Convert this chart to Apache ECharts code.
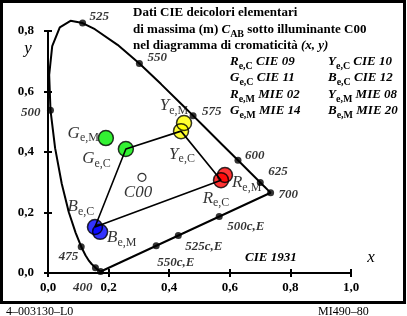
<!DOCTYPE html>
<html>
<head>
<meta charset="utf-8">
<script src="https://cdn.jsdelivr.net/npm/echarts@6/dist/echarts.min.js"></script>
<style>
html, body { margin: 0; padding: 0; background: #fff; }
#chart { width: 407px; height: 316px; }
</style>
</head>
<body>
<div id="chart"></div>
<script>
// CIE 1931 spectral locus (x, y), wavelengths in nm
const locusNm = [380, 400, 420, 430, 440, 450, 460, 465, 470, 475, 480, 485, 490, 495, 500, 505, 510, 515, 520, 525, 530, 540, 550, 560, 570, 575, 580, 590, 600, 610, 620, 625, 630, 640, 650, 700];
const locusX = [0.1741, 0.1733, 0.1714, 0.1689, 0.1644, 0.1566, 0.1440, 0.1355, 0.1241, 0.1096, 0.0913, 0.0687, 0.0454, 0.0235, 0.0082, 0.0039, 0.0139, 0.0389, 0.0743, 0.1142, 0.1547, 0.2296, 0.3016, 0.3731, 0.4441, 0.4788, 0.5125, 0.5752, 0.6270, 0.6658, 0.6915, 0.7006, 0.7079, 0.7190, 0.7260, 0.7347];
const locusY = [0.0050, 0.0048, 0.0051, 0.0069, 0.0109, 0.0177, 0.0297, 0.0399, 0.0578, 0.0868, 0.1327, 0.2007, 0.2950, 0.4127, 0.5384, 0.6548, 0.7502, 0.8120, 0.8338, 0.8262, 0.8059, 0.7543, 0.6923, 0.6245, 0.5547, 0.5202, 0.4866, 0.4242, 0.3725, 0.3340, 0.3083, 0.2993, 0.2920, 0.2809, 0.2740, 0.2653];

// marked wavelengths on the locus
const markNames = ['400', '', '475', '500', '525', '550', '575', '600', '625', '700'];
const markX = [0.1733, 0.1566, 0.1096, 0.0082, 0.1142, 0.3016, 0.4788, 0.6270, 0.7006, 0.7347];
const markY = [0.0048, 0.0177, 0.0868, 0.5384, 0.8262, 0.6923, 0.5202, 0.3725, 0.2993, 0.2653];

// complementary points on the purple line
const complNames = ['500c,E', '525c,E', '550c,E'];
const complX = [0.565, 0.430, 0.357];
const complY = [0.187, 0.124, 0.090];

// colour samples
const sampleLetter = ['G', 'G', 'Y', 'Y', 'R', 'R', 'B', 'B'];
const sampleSub = ['e,M', 'e,C', 'e,M', 'e,C', 'e,M', 'e,C', 'e,C', 'e,M'];
const sampleX = [0.191, 0.257, 0.449, 0.439, 0.584, 0.571, 0.155, 0.172];
const sampleY = [0.446, 0.410, 0.496, 0.469, 0.324, 0.307, 0.152, 0.136];
const sampleColor = ['#00ee00', '#00ee00', '#ffff00', '#ffff00', '#ff0000', '#ff0000', '#0000ff', '#0000ff'];
// e,C quadrilateral: B, G, Y, R, B
const quadIdx = [6, 1, 3, 5, 6];

// illuminant C00
const whiteX = 0.3101, whiteY = 0.3162;

// legend rows
const legLetter = [['R', 'Y'], ['G', 'B'], ['R', 'Y'], ['G', 'B']];
const legSub = [['e,C', 'e,C'], ['e,C', 'e,C'], ['e,M', 'e,M'], ['e,M', 'e,M']];
const legCode = [['CIE 09', 'CIE 10'], ['CIE 11', 'CIE 12'], ['MIE 02', 'MIE 08'], ['MIE 14', 'MIE 20']];

const FONT = 'Liberation Serif';

// label placements (styling only)
const markLabel = [
    { align: 'right', offset: [-8, 16] }, null, { align: 'right', offset: [-3, 10] },
    { align: 'right', offset: [-10, 3] }, { align: 'left', offset: [7, -6] },
    { align: 'left', offset: [8, -6] }, { align: 'left', offset: [9, -4] },
    { align: 'left', offset: [7, -5] }, { align: 'left', offset: [8, -11] },
    { align: 'left', offset: [8, 2] }
];
const complLabel = [
    { align: 'left', offset: [8, 10] }, { align: 'left', offset: [7, 11] }, { align: 'left', offset: [1, 17] }
];
const sampleLabel = [
    { align: 'right', offset: [-7, -5] }, { align: 'right', offset: [-15, 10] },
    { align: 'center', offset: [-10, -17] }, { align: 'center', offset: [1, 23] },
    { align: 'left', offset: [7, 8] }, { align: 'center', offset: [-5, 18] },
    { align: 'center', offset: [-14, -20] }, { align: 'left', offset: [7, 6] }
];

const chartDom = document.getElementById('chart');
const chart = echarts.init(chartDom, null, { renderer: 'canvas' });

const fmt = v => v.toFixed(1).replace('.', ',');

const sampleRich = {
    L: { fontFamily: FONT, fontSize: 17, fontStyle: 'italic', lineHeight: 22, color: '#000' },
    S: { fontFamily: FONT, fontSize: 12, lineHeight: 12, verticalAlign: 'bottom', color: '#000' }
};

const axisBase = {
    min: 0,
    interval: 0.2,
    splitLine: { show: false },
    axisLine: { lineStyle: { color: '#000', width: 2 } },
    axisTick: { length: 4, lineStyle: { color: '#000', width: 2 } }
};

const option = {
    backgroundColor: '#fff',
    animation: false,
    grid: { left: 48, top: 31, width: 303, height: 242 },
    xAxis: [
        Object.assign({}, axisBase, {
            type: 'value', max: 1, position: 'bottom',
            axisLabel: { fontFamily: FONT, fontSize: 13, fontWeight: 'bold', color: '#000', margin: 8, formatter: fmt }
        }),
        Object.assign({}, axisBase, {
            type: 'value', max: 1, position: 'bottom', offset: 0,
            axisLine: { show: false }, axisLabel: { show: false },
            axisTick: { inside: true, length: 4, lineStyle: { color: '#000', width: 2 } }
        })
    ],
    yAxis: [
        Object.assign({}, axisBase, {
            type: 'value', max: 0.8, position: 'left',
            axisLabel: { fontFamily: FONT, fontSize: 13, fontWeight: 'bold', color: '#000', margin: 14, formatter: fmt }
        }),
        Object.assign({}, axisBase, {
            type: 'value', max: 0.8, position: 'left', offset: 0,
            axisLine: { show: false }, axisLabel: { show: false },
            axisTick: { inside: true, length: 4, lineStyle: { color: '#000', width: 2 } }
        })
    ],
    series: [
        {
            // spectral locus closed by the purple line
            type: 'line',
            clip: false,
            showSymbol: false,
            silent: true,
            lineStyle: { color: '#000', width: 2 },
            data: locusX.map((x, i) => [x, locusY[i]]).concat([[locusX[0], locusY[0]]])
        },
        {
            type: 'line',
            clip: false,
            showSymbol: false,
            silent: true,
            lineStyle: { color: '#000', width: 1.6 },
            data: quadIdx.map(i => [sampleX[i], sampleY[i]])
        },
        {
            type: 'scatter',
            clip: false,
            symbolSize: 7,
            itemStyle: { color: '#000' },
            label: {
                show: true, position: 'inside', color: '#000',
                fontFamily: FONT, fontSize: 13, fontWeight: 'bold', fontStyle: 'italic',
                verticalAlign: 'middle', formatter: p => p.name
            },
            data: markX.map((x, i) => ({
                name: markNames[i], value: [x, markY[i]],
                label: markLabel[i] ? markLabel[i] : { show: false }
            }))
        },
        {
            type: 'scatter',
            clip: false,
            symbolSize: 7,
            itemStyle: { color: '#000' },
            label: {
                show: true, position: 'inside', color: '#000',
                fontFamily: FONT, fontSize: 13, fontWeight: 'bold', fontStyle: 'italic',
                verticalAlign: 'middle', formatter: p => p.name
            },
            data: complX.map((x, i) => ({ name: complNames[i], value: [x, complY[i]], label: complLabel[i] }))
        },
        {
            // filled colour discs
            type: 'scatter',
            clip: false,
            symbolSize: 15,
            data: sampleX.map((x, i) => ({
                value: [x, sampleY[i]],
                itemStyle: { color: sampleColor[i] }
            }))
        },
        {
            // outlines on top, so overlapping rings stay visible
            type: 'scatter',
            clip: false,
            symbolSize: 15,
            itemStyle: { color: 'rgba(0,0,0,0)', borderColor: '#000', borderWidth: 1.5 },
            label: {
                show: true, position: 'inside', verticalAlign: 'middle',
                rich: sampleRich,
                formatter: p => '{L|' + sampleLetter[p.dataIndex] + '}{S|' + sampleSub[p.dataIndex] + '}'
            },
            data: sampleX.map((x, i) => ({ value: [x, sampleY[i]], label: sampleLabel[i] }))
        },
        {
            type: 'scatter',
            clip: false,
            symbolSize: 8,
            itemStyle: { color: '#fff', borderColor: '#000', borderWidth: 1.2 },
            label: {
                show: true, position: 'inside', offset: [-4, 15], align: 'center', verticalAlign: 'middle',
                fontFamily: FONT, fontSize: 17, fontStyle: 'italic', color: '#000',
                formatter: 'C00'
            },
            data: [[whiteX, whiteY]]
        }
    ],
    graphic: []
};

const g = option.graphic;
g.push({
    type: 'rect', silent: true,
    shape: { x: 1.5, y: 1.5, width: 403, height: 301 },
    style: { fill: 'none', stroke: '#000', lineWidth: 3 }
});

const tRich = {
    n: { fontFamily: FONT, fontSize: 13, fontWeight: 'bold', lineHeight: 18, color: '#000' },
    i: { fontFamily: FONT, fontSize: 13, fontWeight: 'bold', fontStyle: 'italic', lineHeight: 18, color: '#000' },
    s: { fontFamily: FONT, fontSize: 10, fontWeight: 'bold', lineHeight: 10, verticalAlign: 'bottom', color: '#000' }
};

const titleLines = [
    '{n|Dati CIE deicolori elementari}',
    '{n|di massima (m) }{i|C}{s|AB}{n| sotto illuminante C00}',
    '{n|nel diagramma di cromaticità }{i|(x, y)}'
];
const titleY = [13, 30, 46];
titleLines.forEach((t, i) => {
    g.push({
        type: 'text', silent: true,
        style: { text: t, x: 133, y: titleY[i], verticalAlign: 'middle', rich: tRich }
    });
});

const legRowY = [62, 78, 95, 111];
const legColX = [230, 328];
legRowY.forEach((y, r) => {
    legColX.forEach((x, c) => {
        g.push({
            type: 'text', silent: true,
            style: {
                text: '{i|' + legLetter[r][c] + '}{s|' + legSub[r][c] + '}{i| ' + legCode[r][c] + '}',
                x: x, y: y, verticalAlign: 'middle', rich: tRich
            }
        });
    });
});

const plain = (text, x, y, extra) => g.push({
    type: 'text', silent: true,
    style: Object.assign({ text: text, x: x, y: y, fill: '#000', fontFamily: FONT, verticalAlign: 'middle' }, extra)
});

plain('CIE 1931', 245, 258, { fontSize: 13, fontWeight: 'bold', fontStyle: 'italic' });
plain('x', 371, 258, { fontSize: 17, fontStyle: 'italic', align: 'center' });
plain('y', 28, 49, { fontSize: 17, fontStyle: 'italic', align: 'center' });
plain('4–003130–L0', 6, 312, { fontSize: 12 });
plain('MI490–80', 318, 312, { fontSize: 12 });

chart.setOption(option);

window.addEventListener('resize', function() {
    chart.resize();
});
</script>
</body>
</html>
